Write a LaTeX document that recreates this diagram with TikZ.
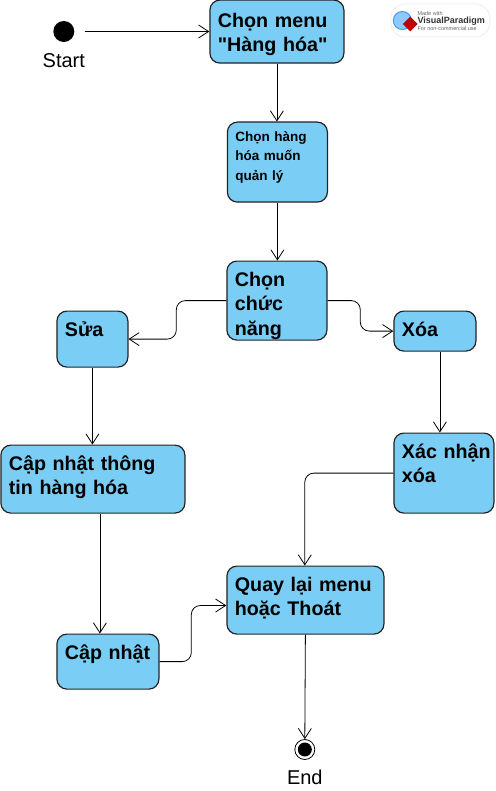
\documentclass[tikz,border=0pt]{standalone}
\usepackage{fontspec}
\setmainfont{Liberation Sans}
\newfontfamily\thang{Liberation Sans}
\usetikzlibrary{arrows.meta,shapes.geometric}
\definecolor{hoatdong}{HTML}{7ACEF6}
\definecolor{vien}{HTML}{222222}
\begin{document}
	\begin{tikzpicture}[x=1pt, y=-1pt,
			box/.style n args={3}{draw=vien, line width=1.2pt, fill=hoatdong, rounded corners=10pt, anchor=north west, inner xsep=8pt, inner ysep=0pt, text width=#1pt-16pt, text height=#3pt, text depth=#2pt-#3pt, align=left},
			big/.style={font=\fontsize{19.7}{24.5}\selectfont\bfseries},
			small/.style={font=\fontsize{13.5}{19.5}\selectfont\bfseries},
			flow/.style={draw=black, line width=0.8pt, -{Straight Barb[length=10pt, width=13pt]}, rounded corners=9pt},
			nhan/.style={font=\fontsize{20}{23}\selectfont}]
		\useasboundingbox (0.7,0.5) rectangle (495.7,791.5);
		\node[circle, fill=black, minimum size=21pt, inner sep=0pt] (start) at (64.5,32) {};
		\node[nhan] (starttext) at (64.5,61) {Start};
		\node[box={134}{63}{27}, big] (chonmenu) at (210,0) {Chọn menu\\{\thang "Hàng hóa"}};
		\node[box={100}{80}{19}, small] (chonhang) at (227.5,122) {Chọn hàng\\hóa muốn\\quản lý};
		\node[box={100}{79}{25}, big] (chucnang) at (227,261) {Chọn\\chức\\năng};
		\node[box={71}{56}{25}, big] (sua) at (57,311) {Sửa};
		\node[box={82}{40}{25}, big] (xoa) at (394,311) {Xóa};
		\node[box={184}{68}{25}, big] (capnhattt) at (1,445) {Cập nhật thông\\tin hàng hóa};
		\node[box={100}{80}{25}, big] (xacnhan) at (394,433) {\mbox{Xác nhận}\\xóa};
		\node[box={157}{68}{25}, big] (quaylai) at (227,566) {Quay lại menu\\hoặc Thoát};
		\node[box={102}{55}{25}, big] (capnhat) at (57,634) {\mbox{Cập nhật}};
		\node[circle, fill=black, minimum size=14pt, inner sep=0pt] (endin) at (305.5,750) {};
		\node[circle, draw=black, line width=0.8pt, minimum size=20pt, inner sep=0pt] (end) at (305.5,750) {};
		\node[nhan] (endtext) at (305.5,778) {End};
		% logo
		\node[draw=black!6, line width=1pt, fill=white, rounded corners=14pt, minimum width=99pt, minimum height=33pt, inner sep=0pt] (logo) at (441,21) {};
		\node[circle, draw=blue!60!cyan!70, line width=1pt, fill=blue!45!cyan!45, minimum size=18pt, inner sep=0pt] (qua) at (403,21) {};
		\node[diamond, aspect=1, fill=red!75!black, minimum size=15pt, inner sep=0pt] (kim) at (411,24.5) {};
		\node[anchor=west, inner sep=0pt, text=black!60, font=\fontsize{5.5}{6}\selectfont] (made) at (418,14) {Made with};
		\node[anchor=west, inner sep=0pt, text=black!80, font=\fontsize{9}{10}\selectfont\bfseries] (vp) at (418,21.5) {VisualParadigm};
		\node[anchor=west, inner sep=0pt, text=black!60, font=\fontsize{5.5}{6}\selectfont] (forn) at (418,29.5) {For non-commercial use};
		% noi
		\coordinate (vaotren) at (305.5,566);
		\coordinate (vaotrai) at (227,606);
		\coordinate (retrai) at (177,300);
		\coordinate (rephai) at (361,300);
		\coordinate (leduoi) at (192,606);
		\draw[flow, shorten <=10pt] (start) -- (chonmenu.west |- start);
		\draw[flow] (chonmenu) -- (chonmenu |- chonhang.north);
		\draw[flow] (chonhang) -- (chonhang |- chucnang.north);
		\draw[flow] (chucnang.west) -- (retrai |- chucnang.west) -- (retrai |- sua.east) -- (sua.east);
		\draw[flow] (chucnang.east) -- (rephai |- chucnang.east) -- (rephai |- xoa.west) -- (xoa.west);
		\draw[flow] (sua) -- (sua |- capnhattt.north);
		\draw[flow] ([xshift=7pt]capnhattt.south) -- ([xshift=7pt]capnhattt.south |- capnhat.north);
		\draw[flow] ([xshift=5pt]xoa.south) -- ([xshift=5pt]xoa.south |- xacnhan.north);
		\draw[flow] (xacnhan.west) -- (vaotren |- xacnhan.west) -- (vaotren);
		\draw[flow] (capnhat.east) -- (leduoi |- capnhat.east) -- (leduoi) -- (vaotrai);
		\draw[flow] (quaylai.south) -- (end.north);
	\end{tikzpicture}
\end{document}
